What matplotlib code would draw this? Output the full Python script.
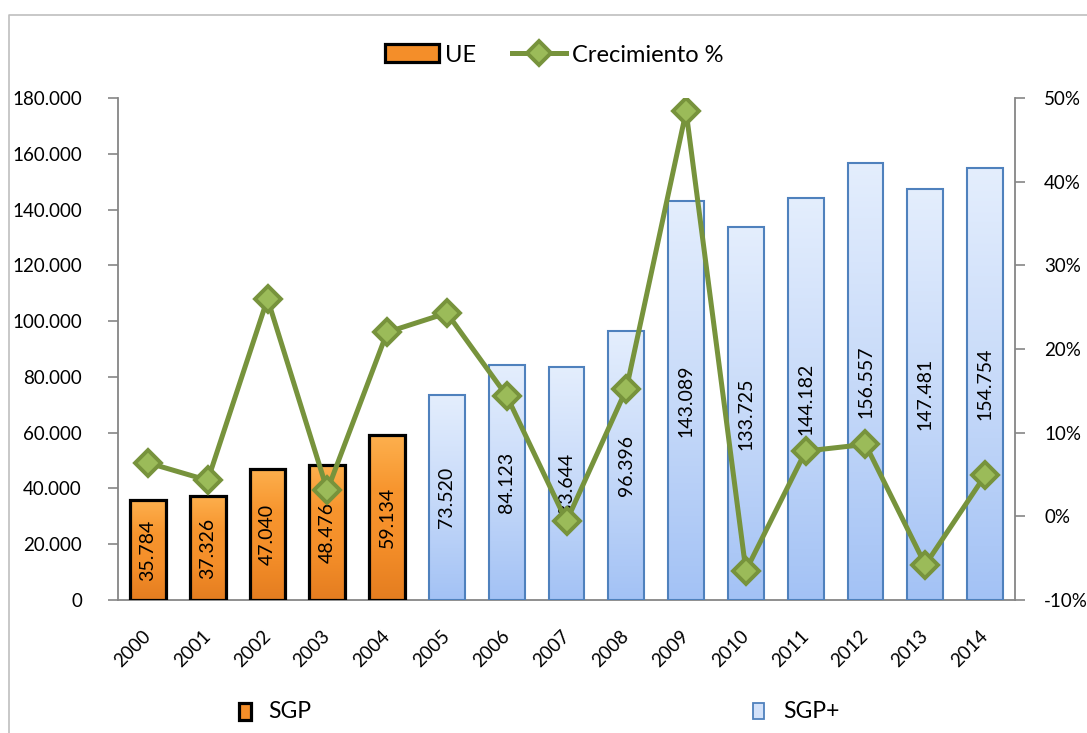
import matplotlib.pyplot as plt
import numpy as np
from matplotlib.colors import LinearSegmentedColormap
from matplotlib.patches import Rectangle
from matplotlib.lines import Line2D
from matplotlib.ticker import FuncFormatter

plt.rcParams['font.family'] = ['Lato', 'DejaVu Sans']

years = ['2000', '2001', '2002', '2003', '2004', '2005', '2006', '2007',
         '2008', '2009', '2010', '2011', '2012', '2013', '2014']
sgp_values = [35784, 37326, 47040, 48476, 59134]
sgp_plus_values = [73520, 84123, 83644, 96396, 143089, 133725,
                   144182, 156557, 147481, 154754]
growth = [6.4, 4.3, 26.0, 3.1, 22.0, 24.3, 14.4, -0.6, 15.2, 48.4,
          -6.5, 7.8, 8.6, -5.8, 4.9]

W, H = 1087, 733
fig = plt.figure(figsize=(W / 100, H / 100), dpi=100)
ax = fig.add_axes([118 / W, 1 - 600 / H, (1015 - 118) / W, (600 - 98) / H])
ax2 = ax.twinx()

orange_cm = LinearSegmentedColormap.from_list('o', ['#FDB04E', '#F7952E', '#F48E29', '#E47D20'])
blue_cm = LinearSegmentedColormap.from_list('b', ['#E4EEFD', '#C7DAF9', '#A3C2F5'])

def gradient_bars(xs, vals, cmap, edge, lw):
    bars = ax.bar(xs, vals, width=0.6, facecolor='none', edgecolor=edge,
                  linewidth=lw, zorder=3)
    grad = np.linspace(0, 1, 256).reshape(-1, 1)
    for b in bars:
        x0, w, h = b.get_x(), b.get_width(), b.get_height()
        ax.imshow(grad, cmap=cmap, aspect='auto', extent=[x0, x0 + w, 0, h],
                  origin='upper', zorder=2)
        ax.text(x0 + w / 2, h / 2, f'{h / 1000:.3f}', rotation=90,
                ha='center', va='center', fontsize=14, zorder=4)
    return bars

x_sgp = np.arange(len(sgp_values))
x_plus = np.arange(len(sgp_values), len(years))
gradient_bars(x_sgp, sgp_values, orange_cm, 'black', 2.3)
gradient_bars(x_plus, sgp_plus_values, blue_cm, '#4F81BD', 1.5)

ax.set_xlim(-0.5, len(years) - 0.5)
ax.set_ylim(0, 180000)
ax.set_yticks(np.arange(0, 180001, 20000))
ax.yaxis.set_major_formatter(FuncFormatter(
    lambda v, p: '0' if v == 0 else f'{v / 1000:.3f}'))
ax.set_xticks(np.arange(len(years)))
ax.set_xticklabels(years, rotation=45, ha='right', va='center',
                   rotation_mode='anchor')

ax2.plot(np.arange(len(years)), growth, color='#77933C', linewidth=3.6,
         marker='D', markersize=13, markerfacecolor='#9BBB59',
         markeredgecolor='#77933C', markeredgewidth=2.8, zorder=5)
ax2.set_ylim(-10, 50)
ax2.set_yticks(np.arange(-10, 51, 10))
ax2.yaxis.set_major_formatter(FuncFormatter(lambda v, p: f'{v:.0f}%'))

for a in (ax, ax2):
    for s in a.spines.values():
        s.set_color('#868686')
        s.set_linewidth(1.3)
    a.spines['top'].set_visible(False)
ax2.spines['left'].set_visible(False)
ax2.spines['bottom'].set_visible(False)
ax.spines['right'].set_visible(False)

ax.tick_params(axis='y', length=7, width=1.2, color='#868686', labelsize=13.5, pad=19)
ax.tick_params(axis='x', length=0, labelsize=13.5, pad=24)
ax2.tick_params(axis='y', length=7, width=1.2, color='#868686', labelsize=13.5, pad=14)

# top legend
handles = [Rectangle((0, 0), 1, 1, facecolor='#F48E29', edgecolor='black', linewidth=2.3),
           Line2D([0], [0], color='#77933C', linewidth=3.6, marker='D', markersize=12,
                  markerfacecolor='#9BBB59', markeredgecolor='#77933C', markeredgewidth=2.8)]
fig.legend(handles, ['UE', 'Crecimiento %'], loc='center', bbox_to_anchor=(0.51, 1 - 55 / H),
           ncol=2, frameon=False, fontsize=17, handlelength=2.3, handleheight=0.8,
           handletextpad=0.25, columnspacing=1.5)

# bottom legend
fig.patches.append(Rectangle((239 / W, 1 - 720 / H), 12 / W, 17 / H, transform=fig.transFigure,
                             facecolor='#F48E29', edgecolor='black', linewidth=2.3))
fig.text(268 / W, 1 - 712 / H, 'SGP', fontsize=16.5, va='center')
fig.patches.append(Rectangle((753 / W, 1 - 719 / H), 11 / W, 16 / H, transform=fig.transFigure,
                             facecolor='#D3E2FA', edgecolor='#4F81BD', linewidth=1.3))
fig.text(783 / W, 1 - 712 / H, 'SGP+', fontsize=16.5, va='center')

# chart border (left and top)
fig.lines.append(Line2D([9 / W, 9 / W, 1.0], [0, 1 - 15 / H, 1 - 15 / H],
                        transform=fig.transFigure, color='#BFBFBF', linewidth=1.2))

fig.savefig('out.png', dpi=100)
